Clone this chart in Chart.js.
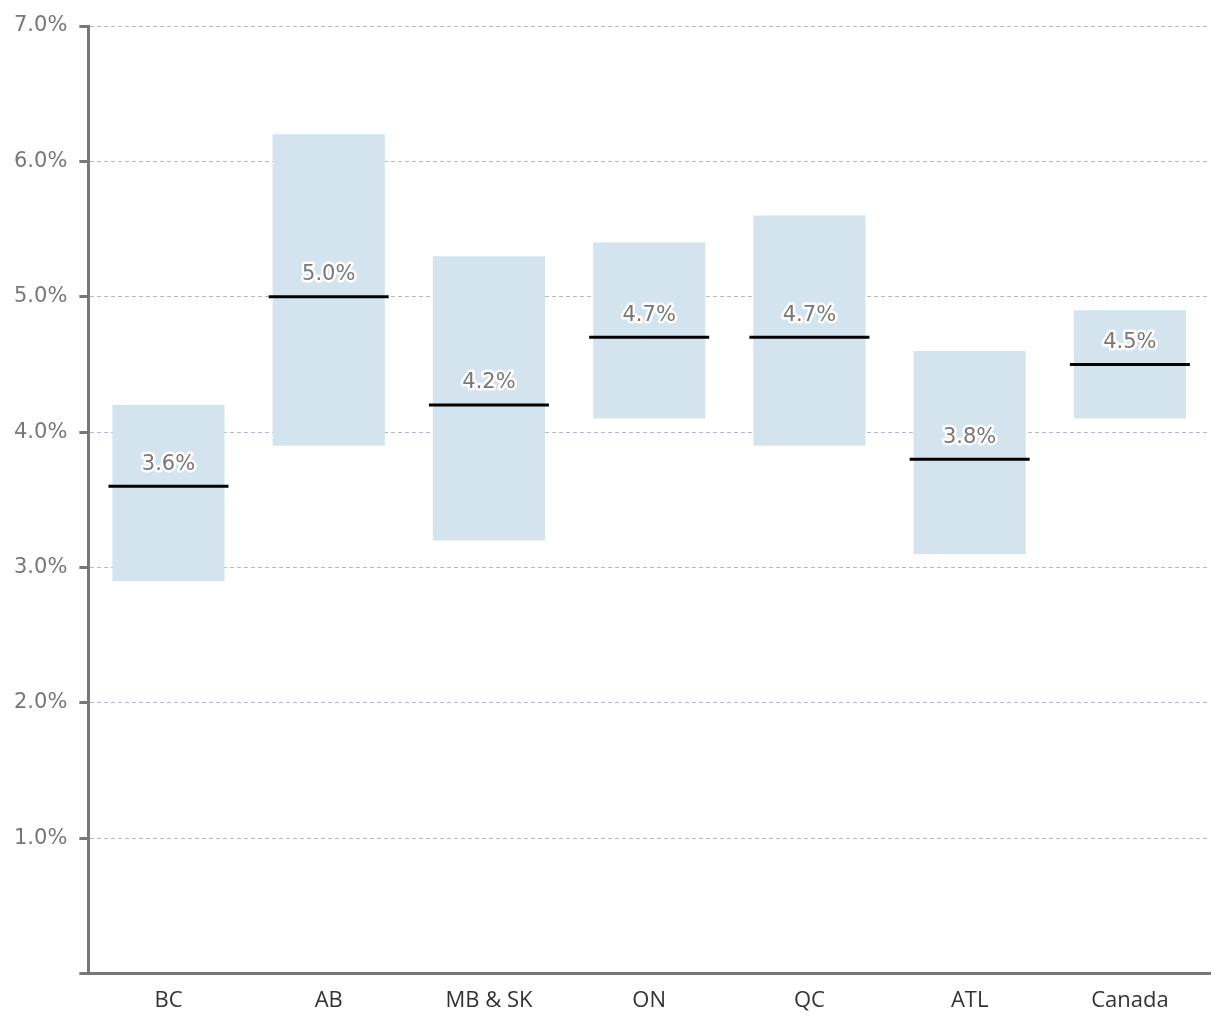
<!DOCTYPE html>
<html>
<head>
<meta charset="utf-8">
<script src="https://cdn.jsdelivr.net/npm/chart.js@4/dist/chart.umd.min.js"></script>
<style>
html,body{margin:0;padding:0;background:#fff;}
#wrap{width:1220px;height:1020px;position:relative;}
</style>
</head>
<body>
<div id="wrap"><canvas id="c" width="1220" height="1020"></canvas></div>
<script>
const categories = ['BC', 'AB', 'MB & SK', 'ON', 'QC', 'ATL', 'Canada'];
const lowValues = [2.9, 3.9, 3.2, 4.1, 3.9, 3.1, 4.1];
const highValues = [4.2, 6.2, 5.3, 5.4, 5.6, 4.6, 4.9];
const medianValues = [3.6, 5.0, 4.2, 4.7, 4.7, 3.8, 4.5];
const yTicks = [0, 1, 2, 3, 4, 5, 6, 7];

const rangeData = categories.map((c, i) => [lowValues[i], highValues[i]]);

const labelPlugin = {
  id: 'medianLabels',
  afterDatasetsDraw(chart) {
    const meta = chart.getDatasetMeta(1);
    const ctx = chart.ctx;
    ctx.save();
    ctx.font = '21px "DejaVu Sans"';
    ctx.textAlign = 'center';
    ctx.textBaseline = 'middle';
    ctx.lineJoin = 'round';
    meta.data.forEach((pt, i) => {
      const txt = medianValues[i].toFixed(1) + '%';
      const x = pt.x, y = pt.y - 22;
      ctx.strokeStyle = '#ffffff';
      ctx.lineWidth = 5;
      ctx.strokeText(txt, x, y);
      ctx.fillStyle = '#777777';
      ctx.fillText(txt, x, y);
    });
    ctx.restore();
  }
};

new Chart(document.getElementById('c'), {
  data: {
    labels: categories,
    datasets: [
      {
        type: 'bar',
        label: 'Range',
        data: rangeData,
        backgroundColor: '#d3e4ef',
        borderWidth: 0,
        barPercentage: 0.7,
        categoryPercentage: 1.0,
        order: 2
      },
      {
        type: 'line',
        label: 'Median',
        data: medianValues,
        showLine: false,
        pointStyle: 'line',
        pointRadius: 60,
        pointHoverRadius: 60,
        borderColor: '#000000',
        borderWidth: 3,
        pointBorderWidth: 3,
        order: 1
      }
    ]
  },
  options: {
    responsive: false,
    animation: false,
    events: [],
    layout: { autoPadding: false, padding: { top: 26, right: 10, left: 2, bottom: 0 } },
    plugins: {
      legend: { display: false },
      tooltip: { enabled: false }
    },
    scales: {
      x: {
        type: 'category',
        offset: true,
        grid: { display: false },
        border: { display: true, color: '#777777', width: 3 },
        ticks: {
          color: '#333333',
          font: { family: '"Open Sans"', size: 22 },
          padding: 6
        }
      },
      y: {
        min: 0,
        max: 7,
        afterBuildTicks(axis) { axis.ticks = yTicks.map(v => ({ value: v })); },
        border: { display: true, color: '#777777', width: 3, dash: [4, 3] },
        grid: {
          color: '#afbcc5',
          lineWidth: 1,
          drawTicks: true,
          tickLength: 9,
          tickColor: '#777777',
          tickWidth: 3,
          tickBorderDash: []
        },
        ticks: {
          color: '#777777',
          font: { family: '"DejaVu Sans"', size: 21 },
          padding: 12,
          callback: (v) => v === 0 ? '' : Number(v).toFixed(1) + '%'
        }
      }
    }
  },
  plugins: [labelPlugin]
});
</script>
</body>
</html>
